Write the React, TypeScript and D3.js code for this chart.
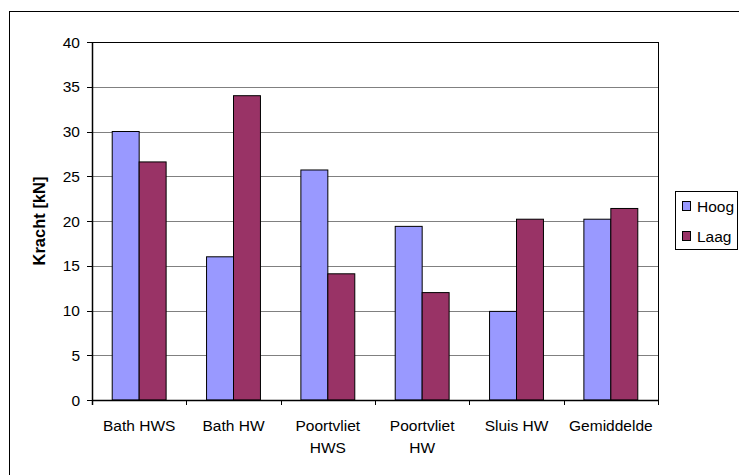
import React from "react";
import * as d3 from "d3";

const categories: string[][] = [
  ["Bath HWS"],
  ["Bath HW"],
  ["Poortvliet", "HWS"],
  ["Poortvliet", "HW"],
  ["Sluis HW"],
  ["Gemiddelde"],
];
const seriesNames = ["Hoog", "Laag"];
const hoog = [30, 16, 25.7, 19.4, 9.9, 20.2];
const laag = [26.6, 34.0, 14.1, 12.0, 20.2, 21.4];
const yTicks = [0, 5, 10, 15, 20, 25, 30, 35, 40];
const colors = ["#9999FF", "#993366"];

const font = "'Liberation Sans', Arial, sans-serif";
const FS = 15.5;

function T(props: { x: number; y: number; anchor?: string; dy?: string; bold?: boolean; rotate?: boolean; size?: number; children: React.ReactNode }) {
  const tr = `translate(${props.x},${props.y})${props.rotate ? " rotate(-90)" : ""}`;
  return (
    <text transform={tr} dy={props.dy} textAnchor={props.anchor || "start"} fontFamily={font} fontSize={props.size || FS} fontWeight={props.bold ? "bold" : "normal"} fill="#000">
      {props.children}
    </text>
  );
}

export default function App() {
  const W = 739, H = 475;
  const left = 92, right = 658, top = 42, bottom = 400;
  const x = d3.scaleBand<number>().domain(d3.range(categories.length)).range([left, right]).paddingInner(0).paddingOuter(0);
  const bw = x.bandwidth();
  const barW = bw / 3.5;
  const y = d3.scaleLinear().domain([0, 40]).range([bottom, top]);
  const series = [hoog, laag];

  return (
    <svg width={W} height={H} style={{ position: "absolute", left: 0, top: 0, background: "#fff" }}>
      <rect x={9.5} y={11.5} width={740} height={470} fill="#fff" stroke="#000" strokeWidth={1} />
      {yTicks.map((t) => (
        <g key={t}>
          {t > 0 && t < 40 && (
            <line x1={left} x2={right} y1={Math.round(y(t)) + 0.5} y2={Math.round(y(t)) + 0.5} stroke="#808080" strokeWidth={1} />
          )}
          <line x1={left - 5} x2={left} y1={Math.round(y(t)) + 0.5} y2={Math.round(y(t)) + 0.5} stroke="#000" />
          <T x={80} y={y(t)} dy="0.36em" anchor="end">{t}</T>
        </g>
      ))}
      {series.map((vals, si) =>
        vals.map((v, i) => {
          const bx = (x(i) as number) + (bw - 2 * barW) / 2 + si * barW;
          return (
            <rect key={si + "-" + i} x={bx} y={y(v)} width={barW} height={bottom - y(v)} fill={colors[si]} stroke="#000" strokeWidth={1} />
          );
        })
      )}
      <rect x={left + 0.5} y={top + 0.5} width={right - left} height={bottom - top} fill="none" stroke="#000" strokeWidth={1} />
      <line x1={left + 0.5} x2={left + 0.5} y1={top} y2={bottom + 5} stroke="#000" strokeWidth={1.5} />
      <line x1={left} x2={right} y1={bottom + 0.5} y2={bottom + 0.5} stroke="#000" strokeWidth={1.5} />
      {d3.range(categories.length + 1).map((i) => {
        const tx = Math.round(left + i * bw) + 0.5;
        return <line key={i} x1={tx} x2={tx} y1={bottom} y2={bottom + 5} stroke="#000" />;
      })}
      {categories.map((lines, i) =>
        lines.map((l, j) => (
          <T key={i + "-" + j} x={(x(i) as number) + bw / 2} y={431 + j * 22} anchor="middle">{l}</T>
        ))
      )}
      <T x={45} y={(top + bottom) / 2} anchor="middle" bold rotate size={16.5}>Kracht [kN]</T>
      <rect x={675.5} y={191.5} width={62} height={58} fill="#fff" stroke="#000" strokeWidth={1} />
      {seriesNames.map((n, i) => (
        <g key={n}>
          <rect x={682.5} y={201.5 + i * 30} width={8} height={9} fill={colors[i]} stroke="#000" strokeWidth={1} />
          <T x={697} y={211.5 + i * 30}>{n}</T>
        </g>
      ))}
    </svg>
  );
}
